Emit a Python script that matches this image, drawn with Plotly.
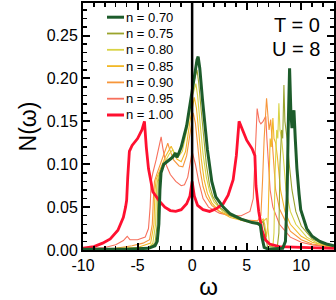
import plotly.graph_objects as go

# ---------------- data ----------------
fillings = ["0.70", "0.75", "0.80", "0.85", "0.90", "0.95", "1.00"]
colors = ["#1d5c2b", "#9aa32c", "#d9d345", "#f2b826", "#f7963a", "#f7705c", "#ff1030"]
widths = [3.0, 1.1, 1.1, 1.1, 1.1, 1.1, 2.8]

omega_070 = [-10, -6, -4, -3.4, -3.2, -3.05, -2.95, -2.85, -2.6, -2.2, -1.8, -1.5, -1.4, -1.25, -1.0, -0.5, -0.12, 0.2, 0.45, 0.55, 0.7, 0.95, 1.2, 1.4, 1.8, 2.17, 2.85, 3.5, 4.5, 5.5, 6.0, 6.25, 6.4, 6.6, 7.0, 8.3, 8.55, 8.7, 8.8, 8.93, 9.05, 9.15, 9.25, 9.33, 9.45, 9.6, 9.8, 9.95, 10.5, 11.0, 11.7, 12.3, 13.0]
dos_070 = [0.001, 0.001, 0.002, 0.005, 0.01, 0.03, 0.07, 0.09, 0.1, 0.104, 0.108, 0.113, 0.108, 0.112, 0.12, 0.145, 0.175, 0.205, 0.222, 0.2255, 0.212, 0.175, 0.14, 0.117, 0.08, 0.062, 0.05, 0.042, 0.036, 0.032, 0.031, 0.029, 0.015, 0.003, 0.001, 0.002, 0.01, 0.06, 0.14, 0.212, 0.16, 0.142, 0.155, 0.163, 0.13, 0.095, 0.065, 0.047, 0.025, 0.016, 0.01, 0.007, 0.005]

omega_075 = [-10, -4, -3.4, -3.2, -3.1, -2.95, -2.5, -2.0, -1.6, -1.45, -1.2, -0.8, -0.3, 0.1, 0.45, 0.6, 0.85, 1.1, 1.3, 1.6, 1.9, 2.5, 3.5, 4.5, 5.5, 6.2, 6.5, 6.7, 6.9, 7.8, 7.95, 8.05, 8.2, 8.3, 8.41, 8.5, 8.6, 8.7, 8.9, 9.15, 9.5, 10.0, 11.0, 12.0, 13.0]
dos_075 = [0.0005, 0.002, 0.008, 0.03, 0.08, 0.09, 0.1, 0.107, 0.114, 0.108, 0.113, 0.127, 0.16, 0.193, 0.21, 0.195, 0.16, 0.125, 0.1, 0.075, 0.062, 0.05, 0.04, 0.035, 0.032, 0.031, 0.033, 0.02, 0.004, 0.003, 0.02, 0.1, 0.14, 0.13, 0.1925, 0.15, 0.14, 0.13, 0.1, 0.07, 0.045, 0.028, 0.013, 0.007, 0.004]

omega_080 = [-10, -4, -3.6, -3.35, -3.25, -3.1, -2.6, -2.1, -1.77, -1.6, -1.3, -0.9, -0.4, 0.0, 0.34, 0.5, 0.75, 1.0, 1.3, 1.6, 2.0, 2.8, 4.0, 5.5, 6.3, 6.6, 6.83, 6.95, 7.1, 7.4, 7.5, 7.6, 7.75, 7.85, 7.95, 8.05, 8.2, 8.35, 8.6, 9.0, 9.5, 10.5, 11.5, 13.0]
dos_080 = [0.0005, 0.003, 0.008, 0.03, 0.075, 0.086, 0.1, 0.112, 0.117, 0.112, 0.108, 0.115, 0.145, 0.178, 0.194, 0.18, 0.145, 0.112, 0.085, 0.068, 0.056, 0.045, 0.037, 0.032, 0.031, 0.034, 0.037, 0.025, 0.005, 0.004, 0.02, 0.09, 0.14, 0.13, 0.171, 0.14, 0.13, 0.11, 0.07, 0.045, 0.03, 0.015, 0.008, 0.004]

omega_085 = [-10, -5, -3.8, -3.5, -3.4, -3.3, -2.9, -2.4, -1.92, -1.75, -1.4, -1.0, -0.6, -0.2, 0.2, 0.4, 0.6, 0.85, 1.1, 1.4, 1.8, 2.5, 3.5, 5.0, 6.2, 6.5, 6.65, 6.8, 6.95, 7.05, 7.15, 7.25, 7.4, 7.5, 7.65, 7.8, 8.1, 8.5, 9.0, 10.0, 11.0, 13.0]
dos_085 = [0.0005, 0.003, 0.008, 0.03, 0.07, 0.082, 0.095, 0.11, 0.121, 0.116, 0.106, 0.103, 0.115, 0.15, 0.178, 0.165, 0.135, 0.105, 0.082, 0.066, 0.055, 0.045, 0.038, 0.033, 0.032, 0.036, 0.03, 0.015, 0.03, 0.1, 0.13, 0.12, 0.154, 0.13, 0.125, 0.11, 0.07, 0.045, 0.03, 0.016, 0.009, 0.003]

omega_090 = [-10, -7, -5.5, -4.5, -3.9, -3.65, -3.55, -3.45, -3.2, -2.8, -2.4, -2.23, -2.05, -1.7, -1.2, -0.85, -0.5, -0.2, 0.1, 0.3, 0.5, 0.75, 1.0, 1.3, 1.8, 2.5, 3.5, 5.0, 6.0, 6.3, 6.45, 6.6, 6.82, 6.95, 7.05, 7.2, 7.35, 7.5, 7.65, 8.0, 9.0, 10.0, 11.0, 13.0]
dos_090 = [0.0005, 0.002, 0.005, 0.008, 0.012, 0.03, 0.06, 0.08, 0.09, 0.105, 0.12, 0.1245, 0.117, 0.105, 0.098, 0.097, 0.11, 0.135, 0.16, 0.148, 0.12, 0.092, 0.074, 0.062, 0.052, 0.045, 0.04, 0.035, 0.034, 0.04, 0.08, 0.13, 0.177, 0.15, 0.14, 0.152, 0.12, 0.09, 0.07, 0.048, 0.022, 0.012, 0.007, 0.003]

omega_095 = [-10, -8, -7, -6.3, -5.95, -5.7, -5.0, -4.3, -4.0, -3.85, -3.75, -3.6, -3.3, -3.0, -2.84, -2.7, -2.4, -2.0, -1.5, -1.0, -0.7, -0.4, -0.15, 0.0, 0.3, 0.6, 1.0, 1.5, 2.5, 3.5, 4.5, 5.3, 5.6, 5.8, 5.96, 6.15, 6.3, 6.5, 6.75, 6.85, 7.0, 7.15, 7.4, 8.0, 9.0, 10.0, 11.0, 13.0]
dos_095 = [0.001, 0.003, 0.006, 0.011, 0.016, 0.012, 0.012, 0.015, 0.025, 0.05, 0.08, 0.09, 0.105, 0.122, 0.132, 0.12, 0.1, 0.088, 0.08, 0.075, 0.076, 0.085, 0.105, 0.115, 0.1, 0.08, 0.06, 0.05, 0.043, 0.04, 0.04, 0.045, 0.06, 0.11, 0.165, 0.15, 0.147, 0.15, 0.156, 0.13, 0.1, 0.07, 0.05, 0.03, 0.015, 0.009, 0.006, 0.003]

omega_100 = [-10, -9, -8.2, -7.5, -6.8, -6.3, -6.1, -6.0, -5.9, -5.75, -5.5, -5.0, -4.6, -4.37, -4.2, -4.0, -3.6, -3.0, -2.5, -2.0, -1.5, -1.0, -0.5, -0.2, 0.0, 0.2, 0.5, 1.0, 1.6, 2.2, 2.85, 3.3, 3.76, 4.05, 4.3, 4.6, 5.0, 5.5, 5.75, 5.85, 5.95, 6.1, 6.4, 6.7, 7.1, 8.0, 10.0, 13.0]
dos_100 = [0.002, 0.004, 0.008, 0.013, 0.023, 0.038, 0.05, 0.058, 0.085, 0.115, 0.122, 0.13, 0.14, 0.15, 0.12, 0.095, 0.068, 0.057, 0.05, 0.046, 0.045, 0.047, 0.054, 0.063, 0.08, 0.063, 0.052, 0.047, 0.045, 0.048, 0.054, 0.064, 0.082, 0.11, 0.15, 0.14, 0.128, 0.118, 0.11, 0.075, 0.06, 0.045, 0.023, 0.012, 0.007, 0.004, 0.003, 0.002]

omegas = [omega_070, omega_075, omega_080, omega_085, omega_090, omega_095, omega_100]
doses = [dos_070, dos_075, dos_080, dos_085, dos_090, dos_095, dos_100]

x_ticks = [-10, -5, 0, 5, 10]
y_ticks = [0.00, 0.05, 0.10, 0.15, 0.20, 0.25]

# ---------------- figure ----------------
FONT = "Liberation Sans, Arial, sans-serif"
fig = go.Figure()

order = [5, 4, 3, 2, 1, 6, 0]
for i in order:
    fig.add_trace(go.Scatter(
        x=omegas[i], y=doses[i], mode="lines",
        line=dict(color=colors[i], width=widths[i]),
        name="n = " + fillings[i], showlegend=False, hoverinfo="skip",
    ))

fig.add_vline(x=0, line=dict(color="black", width=2.5), layer="above")

# manual legend (compact spacing as in the reference)
W, H, L, B = 251.0, 247.0, 83.0, 250.0
for k, lab in enumerate(fillings):
    ypx = 17.2 + 16.3 * k
    yp = (B - ypx) / H
    fig.add_shape(type="line", xref="paper", yref="paper",
                  x0=(107 - L) / W, x1=(124 - L) / W, y0=yp, y1=yp,
                  line=dict(color=colors[k], width=3 if widths[k] > 2 else 1.8))
    fig.add_annotation(xref="paper", yref="paper", x=(124 - L) / W, y=yp,
                       xanchor="left", yanchor="middle", showarrow=False,
                       text="n = " + lab, font=dict(family=FONT, size=13, color="black"))

fig.add_annotation(xref="paper", yref="paper", x=(322 - L) / W, y=(B - 25) / H,
                   xanchor="right", yanchor="middle", showarrow=False,
                   text="T = 0", font=dict(family=FONT, size=20, color="black"))
fig.add_annotation(xref="paper", yref="paper", x=(322 - L) / W, y=(B - 49) / H,
                   xanchor="right", yanchor="middle", showarrow=False,
                   text="U = 8", font=dict(family=FONT, size=20, color="black"))

axis_common = dict(
    showline=True, linecolor="black", linewidth=2, mirror="allticks",
    ticks="inside", ticklen=7, tickwidth=2, tickcolor="black",
    showgrid=False, zeroline=False, automargin=False,
    tickfont=dict(family=FONT, size=16, color="black"),
)
fig.update_xaxes(range=[-10, 13], tickvals=x_ticks, ticktext=[str(v) for v in x_ticks],
                 minor=dict(ticks="inside", ticklen=4, tickwidth=1.5, tickcolor="black", dtick=1, tick0=0),
                 title=dict(text="ω", font=dict(family=FONT, size=24, color="black"), standoff=14),
                 **axis_common)
fig.update_yaxes(range=[0, 0.288], tickvals=y_ticks, ticktext=["%.2f" % v for v in y_ticks],
                 minor=dict(ticks="inside", ticklen=4, tickwidth=1.5, tickcolor="black", dtick=0.01, tick0=0),
                 title=dict(text="N(ω)", font=dict(family=FONT, size=23, color="black"), standoff=4),
                 **axis_common)

fig.update_layout(
    width=336, height=300,
    margin=dict(l=83, r=2, t=3, b=50),
    paper_bgcolor="white", plot_bgcolor="white",
    showlegend=False,
)

fig.write_html("out.html", config={"displayModeBar": False, "staticPlot": True},
               post_script="document.body.style.margin='0px';document.body.style.overflow='hidden';")
